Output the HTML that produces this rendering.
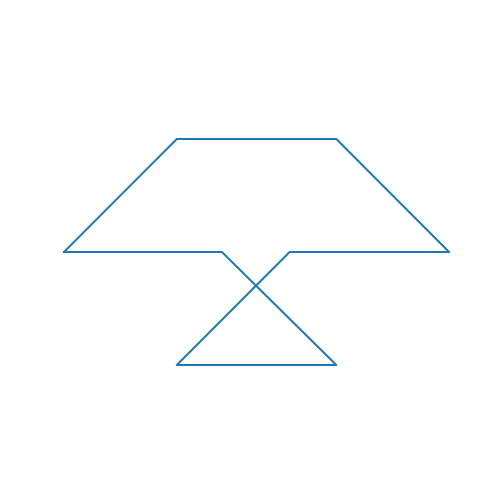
<!DOCTYPE html>
<html>
<head>
<meta charset="utf-8">
<style>
html,body{margin:0;padding:0;background:#fff;}
svg{display:block;}
</style>
</head>
<body>
<svg id="chart" width="500" height="500" viewBox="0 0 500 500" xmlns="http://www.w3.org/2000/svg">
<rect x="0" y="0" width="500" height="500" fill="#ffffff"/>
</svg>
<script>
const xValues = [0, 1, 2.414, 3.414, 2.0, 1.0, 2.414, 1.4, 0];
const yValues = [1, 2, 2, 1, 1, 0, 0, 1, 1];

function xScale(v){ return 64 + v * 112.8; }
function yScale(v){ return 365 - v * 113; }

const svg = document.getElementById('chart');
const pts = xValues.map((x, i) => xScale(x).toFixed(1) + ',' + yScale(yValues[i]).toFixed(1)).join(' ');
const line = document.createElementNS('http://www.w3.org/2000/svg', 'polyline');


line.setAttribute('points', pts);
line.setAttribute('fill', 'none');
line.setAttribute('stroke', '#1f77b4');
line.setAttribute('stroke-width', '2');
line.setAttribute('stroke-linejoin', 'round');
line.setAttribute('stroke-linecap', 'square');
svg.appendChild(line);
</script>
</body>
</html>
